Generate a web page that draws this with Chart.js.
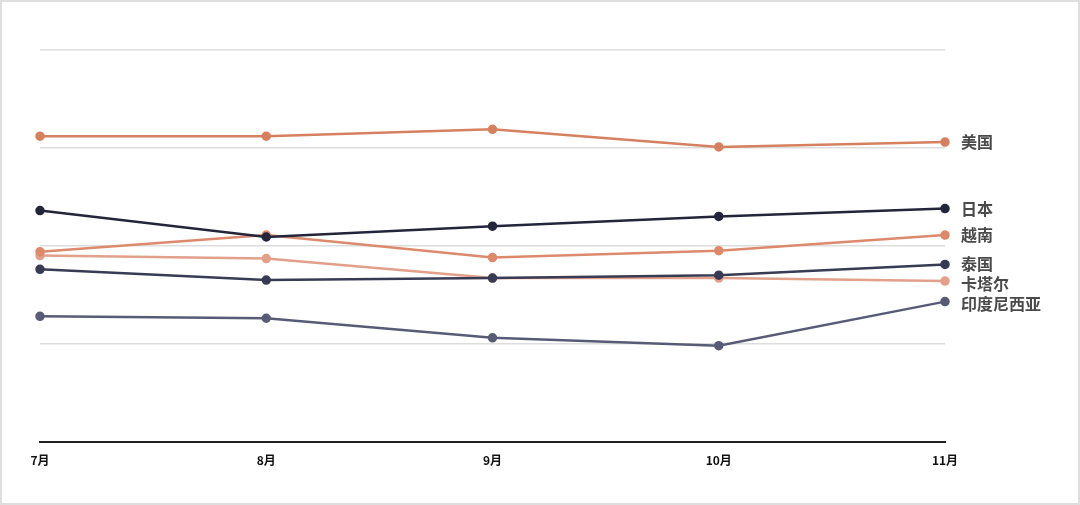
<!DOCTYPE html>
<html>
<head>
<meta charset="utf-8">
<script src="https://cdn.jsdelivr.net/npm/chart.js@4"></script>
<style>
  body { margin: 0; background: #fff; }
  #wrap { width: 1080px; height: 505px; position: relative; }
</style>
</head>
<body>
<div id="wrap"><canvas id="lineChart" width="1080" height="505"></canvas></div>
<script>
const months = ['7月', '8月', '9月', '10月', '11月'];

const usa = [3.12, 3.12, 3.19, 3.01, 3.06];
const japan = [2.36, 2.09, 2.20, 2.30, 2.38];
const vietnam = [1.94, 2.11, 1.88, 1.95, 2.11];
const thailand = [1.76, 1.65, 1.67, 1.70, 1.81];
const qatar = [1.90, 1.87, 1.67, 1.67, 1.64];
const indonesia = [1.28, 1.26, 1.06, 0.98, 1.43];

const countryNames = ['美国', '日本', '越南', '泰国', '卡塔尔', '印度尼西亚'];
const countryData = [usa, japan, vietnam, thailand, qatar, indonesia];
const countryColors = ['#d5805f', '#23263a', '#dc8a6b', '#373b53', '#e2a08a', '#585b76'];

// draws names at the right end of each line, pushed apart if too close
const endLabels = {
    id: 'endLabels',
    afterDatasetsDraw(chart) {
        let ctx = chart.ctx;
        let items = chart.data.datasets.map((ds, i) => {
            let meta = chart.getDatasetMeta(i);
            let pt = meta.data[meta.data.length - 1];
            return { text: ds.label, y: pt.y, x: pt.x };
        });
        items.sort((a, b) => a.y - b.y);
        for (let i = 1; i < items.length; i++) {
            if (items[i].y - items[i - 1].y < 20) items[i].y = items[i - 1].y + 20;
        }
        ctx.save();
        ctx.font = 'bold 16px "Noto Sans CJK SC"';
        ctx.fillStyle = '#4a4a4a';
        ctx.textBaseline = 'middle';
        items.forEach(it => ctx.fillText(it.text, it.x + 16, it.y));
        ctx.restore();
    }
};

const frame = {
    id: 'frame',
    afterDraw(chart) {
        let ctx = chart.ctx;
        ctx.save();
        ctx.strokeStyle = '#dedede';
        ctx.lineWidth = 2;
        ctx.strokeRect(1, 1, chart.width - 2, chart.height - 2);
        ctx.restore();
    }
};

new Chart(document.getElementById('lineChart'), {
    type: 'line',
    data: {
        labels: months,
        datasets: countryNames.map((name, i) => ({
            label: name,
            data: countryData[i],
            borderColor: countryColors[i],
            backgroundColor: countryColors[i],
            borderWidth: 2.5,
            pointRadius: 3.5,
            pointHoverRadius: 3.5,
            tension: 0
        }))
    },
    options: {
        responsive: false,
        animation: false,
        layout: { padding: { top: 50, right: 135, bottom: 33, left: 0 } },
        plugins: { legend: { display: false }, tooltip: { enabled: false } },
        scales: {
            x: {
                grid: { display: false },
                border: { color: '#222', width: 2 },
                ticks: {
                    color: '#111',
                    padding: 4,
                    font: { family: '"Liberation Sans Narrow", "Noto Sans CJK SC"', size: 12, weight: 'bold' }
                }
            },
            y: {
                min: 0,
                max: 4,
                afterFit: s => { s.width = 40; },
                ticks: { display: false, stepSize: 1 },
                border: { display: false },
                grid: { color: '#dddddd', lineWidth: 1.5, drawTicks: false }
            }
        }
    },
    plugins: [endLabels, frame]
});
</script>
</body>
</html>
